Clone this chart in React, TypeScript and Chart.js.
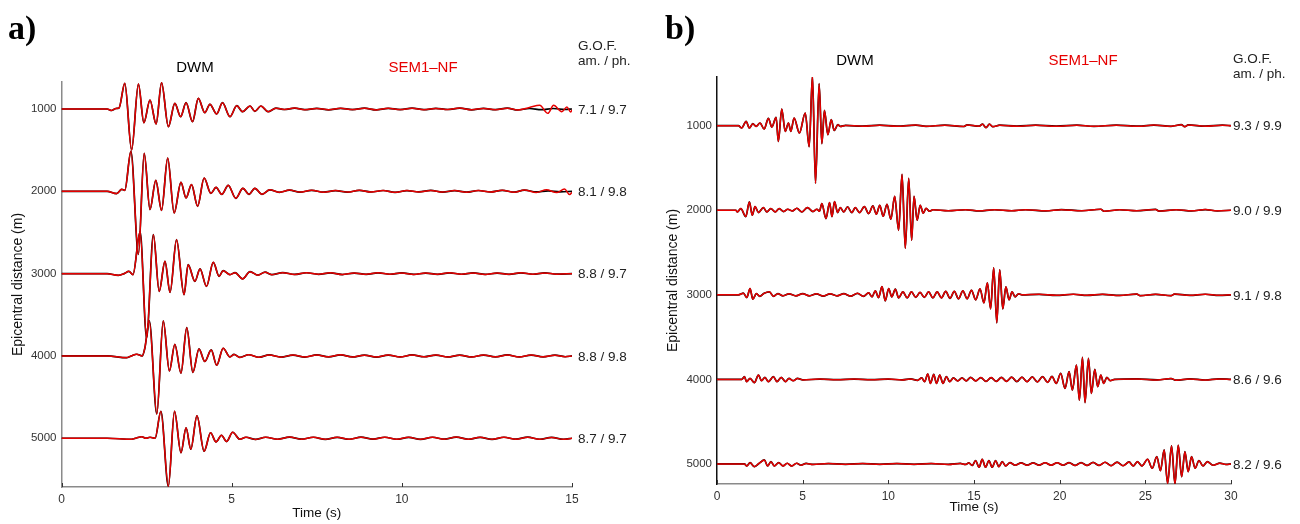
import React, { useEffect, useRef } from "react";
import { Chart, registerables } from "chart.js";

Chart.register(...registerables);

// ---------------- data ----------------
const DISTANCES = [1000, 2000, 3000, 4000, 5000];
const GOF_A = ["7.1 / 9.7", "8.1 / 9.8", "8.8 / 9.7", "8.8 / 9.8", "8.7 / 9.7"];
const GOF_B = ["9.3 / 9.9", "9.0 / 9.9", "9.1 / 9.8", "8.6 / 9.6", "8.2 / 9.6"];
const TIME_TICKS_A = [0, 5, 10, 15];
const TIME_TICKS_B = [0, 5, 10, 15, 20, 25, 30];
// trace gain: metres of plot offset per amplitude unit
const GAIN_A = 12.15;
const GAIN_B = 11.83;

type P = [number, number]; // [time (s), amplitude]

// panel a) traces
const a1: P[] = [[0,0],[1.34,0],[1.47,-1.5],[1.6,0.5],[1.69,1],[1.86,25.7],[2.06,-41],[2.26,25],[2.42,-13.7],[2.6,9],[2.78,-15],[2.94,26.3],[3.14,-17.7],[3.33,5.7],[3.5,-7.7],[3.66,6.3],[3.85,-12.7],[4.02,10.7],[4.21,-3.7],[4.36,4.7],[4.56,-5],[4.73,6.3],[4.95,-7.7],[5.15,3.3],[5.32,-2.7],[5.54,3],[5.68,-2.3],[5.86,3],[6.07,-2.7],[6.3,0.8],[6.55,-0.5],[6.85,0.9],[7.15,-0.7],[7.5,0.6],[7.85,-0.8],[8.2,0.7],[8.55,-0.6],[8.9,0.8],[9.25,-0.9],[9.6,0.7],[9.95,-0.6],[10.3,0.8],[10.65,-0.7],[11.0,0.6],[11.35,-0.5],[11.7,0.9],[12.05,-0.8],[12.4,0.6],[12.75,-0.7],[13.1,0.8],[13.4,-1]];
const a1SemTail: P[] = [[13.75,1.5],[14.05,3.7],[14.29,-4.3],[14.46,3.7],[14.7,-2.7],[14.85,2],[14.96,-3],[15,-1]];
const a1DwmTail: P[] = [[13.75,0.5],[14.1,-0.7],[14.45,0.5],[14.8,-0.5],[15,0]];

const a2: P[] = [[0,0],[1.34,0],[1.62,-2.3],[1.77,2],[1.86,1],[2.04,40],[2.26,-63],[2.43,38],[2.6,-18.3],[2.77,11],[2.94,-19],[3.12,33.3],[3.31,-21.7],[3.51,9],[3.66,-6.7],[3.82,6.7],[4.0,-15],[4.19,13.3],[4.39,-2],[4.54,4],[4.71,-3],[4.9,6],[5.12,-7],[5.33,3],[5.51,-3],[5.68,3],[5.89,-3],[6.12,1.5],[6.4,-1],[6.7,1.2],[7.0,-0.8],[7.35,1],[7.7,-0.9],[8.05,0.7],[8.4,-0.8],[8.75,1],[9.1,-0.7],[9.45,0.8],[9.8,-1],[10.15,0.7],[10.5,-0.6],[10.85,0.9],[11.2,-0.8],[11.55,0.7],[11.9,-0.9],[12.25,0.8],[12.6,-0.7],[12.95,1],[13.3,-0.9],[13.6,1.2]];
const a2SemTail: P[] = [[13.95,-1.2],[14.25,1.5],[14.55,-1.3],[14.78,2.3],[14.93,-3.3],[15,-1]];
const a2DwmTail: P[] = [[13.95,-0.6],[14.3,0.5],[14.65,-0.5],[15,0]];

const a3: P[] = [[0,0],[1.34,0],[1.67,-1.7],[1.84,0],[1.98,2.3],[2.1,-1],[2.31,42],[2.5,-64],[2.7,39],[2.87,-17.7],[3.04,12.3],[3.19,-18.7],[3.38,34],[3.6,-21],[3.72,9],[3.92,-7.7],[4.07,4.7],[4.26,-12.7],[4.46,11.3],[4.63,-2.7],[4.75,3],[4.95,-1],[5.1,1],[5.32,-5.3],[5.54,2],[5.77,-1.5],[5.98,1.5],[6.18,-1],[6.5,1],[6.85,-0.8],[7.2,0.9],[7.55,-0.7],[7.9,0.8],[8.25,-0.9],[8.6,0.6],[8.95,-0.7],[9.3,0.8],[9.65,-0.6],[10.0,0.7],[10.35,-0.8],[10.7,0.6],[11.05,-0.7],[11.4,0.8],[11.75,-0.6],[12.1,0.7],[12.45,-0.8],[12.8,0.6],[13.15,-0.7],[13.5,0.8],[13.85,-0.6],[14.2,0.7],[14.55,-0.5],[15,0]];

const a4: P[] = [[0,0],[1.34,0],[1.91,-1.7],[2.05,0],[2.21,1.7],[2.37,0],[2.45,8],[2.58,35],[2.8,-58],[2.99,35],[3.17,-15],[3.33,11.7],[3.51,-17.3],[3.68,28.3],[3.86,-16.5],[4.04,7],[4.21,-5.5],[4.4,6],[4.56,-9.3],[4.75,7.7],[4.95,-1],[5.07,1.5],[5.24,-1.5],[5.5,1.2],[5.8,-1.3],[6.1,1],[6.45,-1.2],[6.8,0.9],[7.15,-1.1],[7.5,1],[7.85,-0.9],[8.2,1.1],[8.55,-1],[8.9,0.8],[9.25,-1.1],[9.6,0.9],[9.95,-1],[10.3,1],[10.65,-0.8],[11.0,0.9],[11.35,-1],[11.7,0.8],[12.05,-1],[12.4,0.9],[12.75,-0.9],[13.1,1],[13.45,-1],[13.8,0.9],[14.15,-0.9],[14.5,0.8],[14.8,-0.8],[15,0]];

const a5: P[] = [[0,0],[1.34,0],[2.06,-1],[2.2,0.3],[2.36,1.5],[2.48,0],[2.6,1],[2.75,0],[2.92,27],[3.14,-48],[3.32,27],[3.51,-14.5],[3.66,10.5],[3.8,-11],[3.98,22.5],[4.19,-13],[4.38,5.5],[4.54,-3.7],[4.7,3],[4.85,-3.3],[5.03,6],[5.24,-1],[5.42,1],[5.7,-1.2],[6.0,1],[6.35,-1],[6.7,1.2],[7.05,-0.9],[7.4,1],[7.75,-1.1],[8.1,0.9],[8.45,-1],[8.8,1.1],[9.15,-0.8],[9.5,1],[9.85,-1],[10.2,0.9],[10.55,-1.1],[10.9,1],[11.25,-0.9],[11.6,1.2],[11.95,-1],[12.3,0.9],[12.65,-1.1],[13.0,1],[13.35,-0.9],[13.7,1.1],[14.05,-1],[14.4,0.8],[14.75,-1],[15,0]];

// panel b) traces
const b1: P[] = [[0,0],[1.25,0],[1.44,-2.3],[1.7,4.3],[1.89,-2.3],[2.09,2],[2.28,-0.7],[2.51,2.7],[2.75,-3.3],[3.0,7.3],[3.2,-1.3],[3.45,8.3],[3.58,-15.7],[3.78,16.7],[3.98,-5.7],[4.17,2.7],[4.31,-5.7],[4.5,7.7],[4.81,-7.3],[5.15,12.7],[5.38,-21],[5.57,49],[5.75,-57.7],[5.96,42],[6.12,-18],[6.27,15.3],[6.47,-9],[6.67,6],[6.84,-4.7],[7.06,1],[7.2,-0.7],[7.5,0.3],[8.5,-0.5],[9.5,0.5],[10.5,-0.5],[11.6,0.6],[12.2,-0.6],[13.3,0.5],[14.4,-0.8],[14.6,0.8],[15.3,-0.5],[15.5,1.5],[15.7,-2],[15.9,1.5],[16.1,-1],[16.5,0.5],[17.5,-0.5],[18.6,0.5],[19.8,-0.5],[21,0.5],[22,-0.6],[23.3,0.5],[24.6,-0.5],[25.5,0.6],[26.5,-0.6],[27.1,1],[27.3,-1],[27.5,0.8],[28.5,-0.5],[29.5,0.5],[30,0]];

const b2: P[] = [[0,0],[1.1,0],[1.19,-1.7],[1.39,1.7],[1.68,-6.3],[1.89,8.3],[2.06,-5],[2.22,3.7],[2.42,-2.3],[2.71,2.7],[2.91,-1.7],[3.14,1.7],[3.4,-1.7],[3.63,1.7],[3.89,-1.3],[4.13,1],[4.4,-0.7],[4.66,2],[4.95,-1.7],[5.28,2.7],[5.6,-1.3],[5.83,1],[5.98,-1],[6.12,6.7],[6.36,-8.3],[6.57,7.7],[6.71,-6.3],[6.86,8.7],[7.04,-2.3],[7.2,2.7],[7.4,-1.7],[7.62,3.3],[7.87,-2.3],[8.07,2.7],[8.32,-2.3],[8.6,3.7],[8.85,-3.3],[9.1,4.3],[9.3,-4],[9.5,5],[9.7,-6],[9.92,6],[10.15,-9],[10.37,14],[10.6,-20],[10.8,36],[10.99,-38],[11.19,32],[11.36,-30],[11.5,14],[11.68,-10],[11.86,5],[12.04,-3],[12.2,2],[12.4,-1],[12.6,0.5],[13.5,-0.5],[14.5,0.5],[15.3,-0.6],[16.2,0.5],[17.2,-0.5],[18,0.5],[19.2,-0.6],[20.1,0.6],[21.3,-0.5],[22.4,1],[22.6,-1],[23.5,0.5],[24.5,-0.5],[25.6,0.8],[25.8,-0.8],[26.8,0.5],[27.7,-0.6],[28.5,0.7],[29.2,-0.6],[30,0]];

const b3: P[] = [[0,0],[1.25,0],[1.54,1.7],[1.74,-2.7],[1.93,6.3],[2.09,-4.3],[2.3,1.3],[2.5,-1.5],[2.75,1.5],[3.06,3],[3.3,-1.5],[3.55,1.2],[3.85,-1],[4.2,1],[4.6,-1],[5.0,1.2],[5.4,-1],[5.8,1],[6.2,-1.2],[6.6,1],[7.0,-1],[7.4,1.2],[7.8,-1.3],[8.2,1.5],[8.55,-1.5],[8.85,2],[9.05,-2],[9.24,4],[9.43,-2.7],[9.63,8.3],[9.82,-6],[10.02,6.3],[10.2,-2],[10.41,5.7],[10.6,-3],[10.85,3],[11.1,-3],[11.35,3],[11.6,-2.5],[11.85,2.5],[12.1,-2.5],[12.35,3],[12.6,-3],[12.85,3],[13.1,-3],[13.35,3.5],[13.6,-3.5],[13.85,3.5],[14.1,-4],[14.35,4],[14.6,-4],[14.85,4.5],[15.1,-5],[15.35,6],[15.58,-8],[15.78,12],[15.97,-14],[16.15,27],[16.33,-28],[16.5,25],[16.68,-14],[16.86,8],[17.05,-5],[17.22,3],[17.4,-2],[17.6,1],[17.8,0],[18.8,0.5],[19.8,-0.5],[20.8,0.6],[21.6,-0.5],[22.5,0.5],[23.5,-0.6],[24.5,0.8],[24.7,-0.8],[25.6,0.5],[26.5,-0.8],[26.7,0.8],[27.6,-0.5],[28.5,0.6],[29.3,-0.5],[30,0]];

const b4: P[] = [[0,0],[1.45,0],[1.6,2.7],[1.73,-2.3],[1.93,1],[2.18,-3.3],[2.42,4.3],[2.6,-1.3],[2.8,2],[3.0,-2.3],[3.29,2.7],[3.5,-2.3],[3.75,2],[4.0,-2.3],[4.2,1],[4.45,-1.3],[4.7,1],[5.0,-0.5],[6,0.3],[7,-0.3],[8,0.3],[9,-0.3],[10,0.3],[10.8,-0.5],[11.3,0.5],[11.7,-1],[11.95,1.5],[12.12,-2.3],[12.3,5.3],[12.46,-4],[12.65,5],[12.81,-4],[13.0,4.3],[13.19,-4],[13.39,2.7],[13.58,-2.3],[13.8,1.5],[14.05,-1.5],[14.3,1.5],[14.55,-1.5],[14.8,2],[15.1,-1.5],[15.4,1.8],[15.7,-2],[16.0,1.8],[16.3,-2],[16.6,2],[16.9,-2],[17.2,2.2],[17.5,-2.2],[17.8,2.2],[18.1,-2.3],[18.4,2.5],[18.7,-2.5],[19.0,2.7],[19.3,-3],[19.55,3],[19.8,-4],[20.06,6],[20.31,-9],[20.55,7.7],[20.74,-10.7],[20.98,14.3],[21.15,-20.7],[21.33,22],[21.48,-23.3],[21.68,21],[21.85,-14],[22.05,10],[22.22,-7.3],[22.4,4.3],[22.57,-4],[22.75,2],[22.95,-1.3],[23.2,0],[24.5,0.5],[25.7,-0.5],[26.5,0.8],[26.8,-0.8],[27.6,0.5],[28.5,-0.6],[29.3,0.5],[30,0]];

const b5: P[] = [[0,0],[1.6,0],[1.74,-2],[1.93,1.3],[2.18,-2.7],[2.45,0.5],[2.77,4],[2.95,-2],[3.15,2.3],[3.35,-2],[3.6,1.3],[3.85,-2],[4.1,0.7],[4.35,-2],[4.65,0.7],[4.9,-1.3],[5.2,0.5],[5.6,-0.5],[6.5,0.4],[7.5,-0.4],[8.5,0.4],[9.5,-0.4],[10.5,0.4],[11.5,-0.4],[12.5,0.4],[13.5,-0.5],[14.2,0.5],[14.5,-0.5],[14.7,1],[14.9,-1.5],[15.09,3.3],[15.3,-3.3],[15.48,4.7],[15.67,-3.3],[15.87,3.3],[16.06,-3.3],[16.26,3.3],[16.45,-2.7],[16.65,2.3],[16.85,-2],[17.1,1.3],[17.4,-1.3],[17.75,1],[18.1,-1.2],[18.45,1],[18.8,-1.2],[19.15,1.2],[19.5,-1.3],[19.85,1.2],[20.2,-1.3],[20.55,1.3],[20.9,-1.5],[21.25,1.3],[21.6,-1.5],[21.95,1.5],[22.3,-1.5],[22.65,1.7],[23.0,-1.7],[23.35,1.8],[23.7,-1.8],[24.05,2],[24.3,-2],[24.54,2.3],[24.8,-2],[25.13,4.7],[25.4,-4.3],[25.67,7.3],[25.88,-6.7],[26.1,14],[26.3,-19.3],[26.53,18],[26.73,-20],[26.92,18.7],[27.12,-12.7],[27.31,12.3],[27.5,-7.7],[27.7,7.3],[27.9,-4.3],[28.13,3.3],[28.37,-2],[28.62,2.3],[28.95,-1.3],[29.35,0.8],[29.7,-0.5],[30,0]];

const SEM_A: P[][] = [a1.concat(a1SemTail), a2.concat(a2SemTail), a3, a4, a5];
const DWM_A: P[][] = [a1.concat(a1DwmTail), a2.concat(a2DwmTail), a3, a4, a5];
const SEM_B: P[][] = [b1, b2, b3, b4, b5];
const DWM_B: P[][] = [b1, b2, b3, b4, b5];

// ---------------- chart helpers ----------------
const FONT = "'Liberation Sans', Arial, Helvetica, sans-serif";
const RED = "#e60000";

function toXY(points: P[], offset: number, gain: number) {
  return points.map(([t, a]) => ({ x: t, y: offset - a * gain }));
}

interface PanelCfg {
  left: number;
  letter: string;
  letterX: number;
  sem: P[][];
  dwm: P[][];
  gain: number;
  gof: string[];
  xMax: number;
  xTicks: number[];
  yMin: number;
  yMax: number;
  pad: { top: number; right: number };
  yWidth: number;
  xHeight: number;
  yTitlePad: number;
  xTitlePad: number;
  yAxisColor: string;
  dwmX: number;
  semX: number;
  headY: number;
  gofX: number;
  gofHeadY: number;
}

const PANEL_A: PanelCfg = {
  left: 0, letter: "a)", letterX: 8,
  sem: SEM_A, dwm: DWM_A, gain: GAIN_A, gof: GOF_A,
  xMax: 15, xTicks: TIME_TICKS_A, yMin: 672, yMax: 5592,
  pad: { top: 82, right: 78 }, yWidth: 61.5, xHeight: 37,
  yTitlePad: 10, xTitlePad: 3, yAxisColor: "#8a8a8a",
  dwmX: 195, semX: 423, headY: 68, gofX: 578, gofHeadY: 46,
};

const PANEL_B: PanelCfg = {
  left: 650, letter: "b)", letterX: 15,
  sem: SEM_B, dwm: DWM_B, gain: GAIN_B, gof: GOF_B,
  xMax: 30, xTicks: TIME_TICKS_B, yMin: 424, yMax: 5237,
  pad: { top: 77, right: 69 }, yWidth: 67, xHeight: 40,
  yTitlePad: 15, xTitlePad: 9, yAxisColor: "#111",
  dwmX: 205, semX: 433, headY: 61, gofX: 583, gofHeadY: 59,
};

function makeConfig(c: PanelCfg): any {
  const datasets: any[] = [];
  DISTANCES.forEach((d, i) => {
    datasets.push({
      label: "SEM1-NF " + d,
      data: toXY(c.sem[i], d, c.gain),
      borderColor: RED,
      borderWidth: 1.5,
      pointRadius: 0,
      cubicInterpolationMode: "monotone",
      order: 1,
    });
    datasets.push({
      label: "DWM " + d,
      data: toXY(c.dwm[i], d, c.gain),
      borderColor: "#000",
      borderWidth: 1.7,
      pointRadius: 0,
      cubicInterpolationMode: "monotone",
      order: 2,
    });
  });

  const annot = {
    id: "annot",
    afterDraw(chart: any) {
      const { ctx, chartArea, scales } = chart;
      const x = scales.x;
      const y = scales.y;
      ctx.save();
      // inward ticks on the time axis
      ctx.strokeStyle = "#333";
      ctx.lineWidth = 1;
      c.xTicks.forEach((v) => {
        const px = Math.round(x.getPixelForValue(v)) + 0.5;
        ctx.beginPath();
        ctx.moveTo(px, chartArea.bottom);
        ctx.lineTo(px, chartArea.bottom - 4);
        ctx.stroke();
      });
      // panel letter
      ctx.fillStyle = "#000";
      ctx.textBaseline = "alphabetic";
      ctx.textAlign = "left";
      ctx.font = "bold 34px 'Liberation Serif', 'DejaVu Serif', serif";
      ctx.fillText(c.letter, c.letterX, 39);
      // model names
      ctx.textAlign = "center";
      ctx.textBaseline = "middle";
      ctx.font = "15px " + FONT;
      ctx.fillStyle = "#000";
      ctx.fillText("DWM", c.dwmX, c.headY);
      ctx.fillStyle = RED;
      ctx.fillText("SEM1–NF", c.semX, c.headY);
      // GOF header
      ctx.fillStyle = "#222";
      ctx.textAlign = "left";
      ctx.font = "13.5px " + FONT;
      ctx.fillText("G.O.F.", c.gofX, c.gofHeadY);
      ctx.fillText("am. / ph.", c.gofX, c.gofHeadY + 15);
      // GOF values at each trace baseline
      DISTANCES.forEach((d, i) => {
        ctx.fillText(c.gof[i], c.gofX, y.getPixelForValue(d) + 1);
      });
      ctx.restore();
    },
  };

  return {
    type: "line",
    data: { datasets },
    plugins: [annot],
    options: {
      responsive: false,
      animation: false,
      devicePixelRatio: 1,
      parsing: false,
      normalized: true,
      layout: { padding: { top: c.pad.top, right: c.pad.right, left: 0, bottom: 0 } },
      plugins: { legend: { display: false }, tooltip: { enabled: false }, title: { display: false } },
      elements: { line: { tension: 0 } },
      scales: {
        x: {
          type: "linear",
          min: 0,
          max: c.xMax,
          afterBuildTicks: (axis: any) => {
            axis.ticks = c.xTicks.map((v) => ({ value: v }));
          },
          afterFit: (s: any) => {
            s.height = c.xHeight;
          },
          grid: { display: false, drawTicks: false },
          border: { display: true, color: "#8a8a8a", width: 1.5 },
          ticks: {
            color: "#333",
            font: { family: FONT, size: 12 },
            padding: 5,
            maxRotation: 0,
            callback: (v: any) => String(v),
          },
          title: {
            display: true,
            text: "Time (s)",
            color: "#111",
            font: { family: FONT, size: 13.5 },
            padding: { top: 0, bottom: c.xTitlePad },
          },
        },
        y: {
          type: "linear",
          reverse: true,
          min: c.yMin,
          max: c.yMax,
          afterBuildTicks: (axis: any) => {
            axis.ticks = DISTANCES.map((v) => ({ value: v }));
          },
          afterFit: (s: any) => {
            s.width = c.yWidth;
          },
          grid: { display: false, drawTicks: false },
          border: { display: true, color: c.yAxisColor, width: 1.5 },
          ticks: {
            color: "#333",
            font: { family: FONT, size: 11.5 },
            padding: 5,
            callback: (v: any) => String(v),
          },
          title: {
            display: true,
            text: "Epicentral distance (m)",
            color: "#111",
            font: { family: FONT, size: 14 },
            padding: { top: c.yTitlePad, bottom: 0 },
          },
        },
      },
    },
  };
}

function Panel({ cfg }: { cfg: PanelCfg }) {
  const ref = useRef<HTMLCanvasElement | null>(null);
  useEffect(() => {
    if (!ref.current) return;
    const chart = new Chart(ref.current, makeConfig(cfg));
    return () => chart.destroy();
  }, [cfg]);
  return (
    <canvas
      ref={ref}
      width={650}
      height={524}
      style={{ position: "absolute", left: cfg.left, top: 0, width: 650, height: 524 }}
    />
  );
}

export default function App() {
  return (
    <div
      style={{
        position: "absolute",
        left: 0,
        top: 0,
        width: 1300,
        height: 524,
        background: "#fff",
        overflow: "hidden",
      }}
    >
      <Panel cfg={PANEL_A} />
      <Panel cfg={PANEL_B} />
    </div>
  );
}
